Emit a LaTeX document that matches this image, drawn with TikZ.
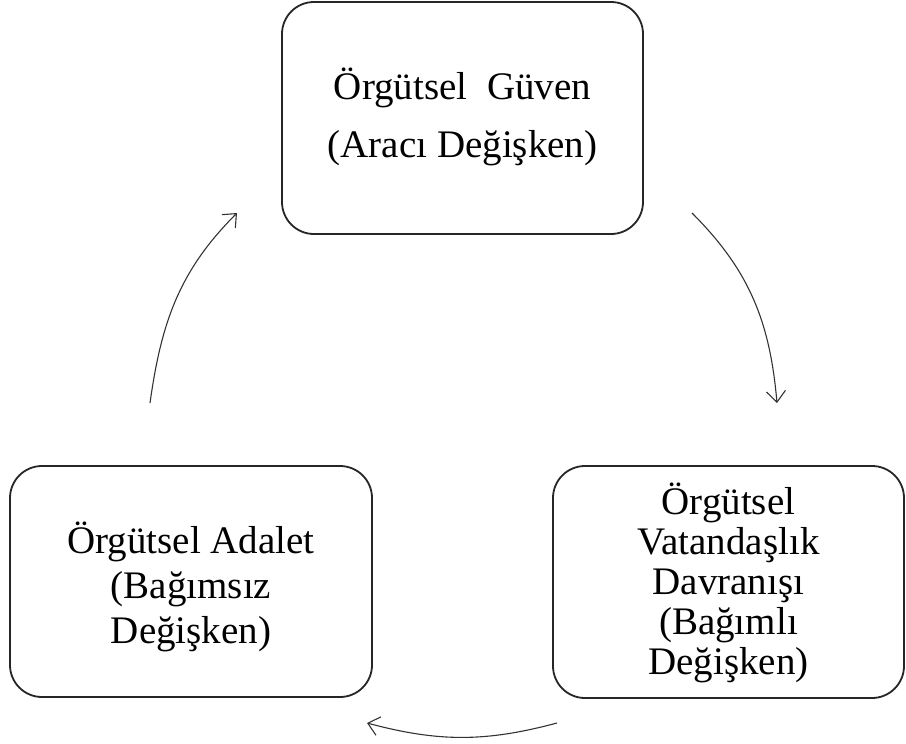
\documentclass[tikz,border=0pt]{standalone}
\usepackage{fontspec}
\setmainfont{Liberation Serif}
\usetikzlibrary{arrows.meta}
\begin{document}
\begin{tikzpicture}[x=1pt,y=-1pt,
  box/.style={draw=black!85, line width=1.8pt, rounded corners=32pt, inner sep=0pt},
  label/.style={align=center, inner sep=0pt},
  flow/.style={draw=black!80, line width=1.1pt, -{Straight Barb[length=11pt,width=19pt]}}]
\useasboundingbox (0,0) rectangle (906,744);
\node[box, minimum width=361pt, minimum height=232pt] (guven) at (462.5,118) {};
\node[label, font=\fontsize{39}{58}\selectfont] (guventext) at ([yshift=1.5pt]guven.center) {Örgütsel\ \ Güven\\(Aracı Değişken)};
\node[box, minimum width=362pt, minimum height=231pt] (adalet) at (191,581.5) {};
\node[label, font=\fontsize{39}{45}\selectfont] (adalettext) at ([yshift=-5pt]adalet.center) {Örgütsel Adalet\\(Bağımsız\\Değişken)};
\node[box, minimum width=351pt, minimum height=232pt] (vatandas) at (728.5,582) {};
\node[label, font=\fontsize{39}{40}\selectfont] (vatandastext) at ([yshift=-1pt]vatandas.center) {Örgütsel\\Vatandaşlık\\Davranışı\\(Bağımlı\\Değişken)};
\coordinate (a1) at (150,403);
\coordinate (a2) at (237,213);
\coordinate (b1) at (692,213);
\coordinate (b2) at (777,403);
\coordinate (c1) at (557,723);
\coordinate (c2) at (367,723);
\draw[flow] (a1) to[out=82,in=225] (a2);
\draw[flow] (b1) to[out=-45,in=95] (b2);
\draw[flow] (c1) to[out=195,in=-15] (c2);
\end{tikzpicture}
\end{document}
